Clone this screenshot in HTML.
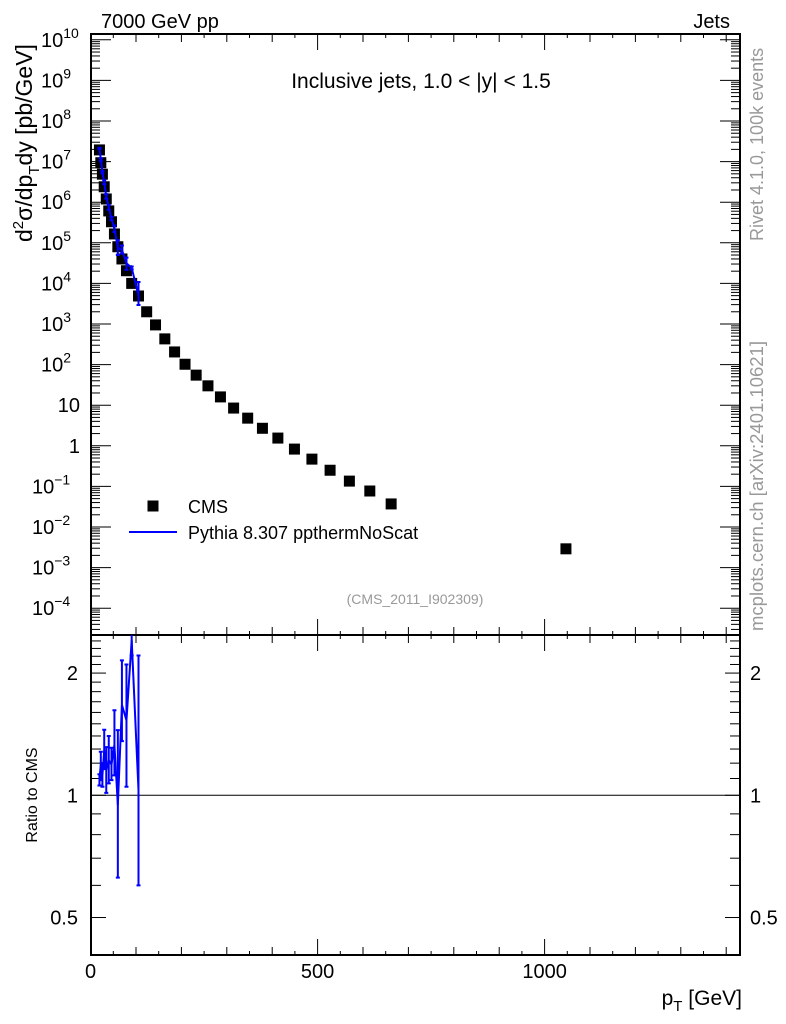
<!DOCTYPE html>
<html><head><meta charset="utf-8"><style>
body{margin:0;background:#fff;}
svg{display:block;font-family:"Liberation Sans",sans-serif;}
</style></head><body>
<svg id="c" width="786" height="1024" viewBox="0 0 786 1024" xmlns="http://www.w3.org/2000/svg" xml:space="preserve">
<text x="101" y="28" font-size="20">7000 GeV pp</text>
<text x="730" y="28" font-size="20" text-anchor="end">Jets</text>
<text x="421" y="88" font-size="21" text-anchor="middle">Inclusive jets, 1.0 &lt; |y| &lt; 1.5</text>
<text x="415" y="604" font-size="14" fill="#999" text-anchor="middle">(CMS_2011_I902309)</text>
<text transform="translate(763,241) rotate(-90)" font-size="18" fill="#999">Rivet 4.1.0,  100k events</text>
<text transform="translate(763,631) rotate(-90)" font-size="18.5" fill="#999">mcplots.cern.ch [arXiv:2401.10621]</text>
<text transform="translate(32,242) rotate(-90)" font-size="23">d<tspan dy="-9" font-size="15">2</tspan><tspan dy="9">σ/dp</tspan><tspan dy="7" font-size="15">T</tspan><tspan dy="-7">dy [pb/GeV]</tspan></text>
<text transform="translate(37,795) rotate(-90)" font-size="16" text-anchor="middle">Ratio to CMS</text>
<text x="742" y="1005" font-size="21" text-anchor="end">p<tspan dy="6" font-size="15">T</tspan><tspan dy="-6"> [GeV]</tspan></text>
<g id="legend">
<rect x="147.5" y="500.5" width="11" height="11" fill="#000"/>
<text x="188" y="513" font-size="18">CMS</text>
<line x1="129" y1="532" x2="177" y2="532" stroke="#00f" stroke-width="2"/>
<text x="188" y="539" font-size="18">Pythia 8.307 ppthermNoScat</text>
</g>
</svg>
<script>
const ptCenters=[19.5,22.5,26,30,34.5,40,46,52.5,60,69,79,90.5,105.5,123.5,143,163.5,185,208,232.5,258.5,286,315,346,378.5,412.5,449,487.5,527.5,570,615,662,1047];
const cmsValues=[1.94e7,9.4e6,4.9e6,2.4e6,1.2e6,6.1e5,3.3e5,1.65e5,8e4,4.0e4,2.05e4,1.0e4,4.9e3,2.0e3,950,430,205,102,55,30,16,8.5,4.8,2.7,1.55,0.83,0.47,0.25,0.135,0.077,0.037,0.0029];
const ratioValues=[1.097,1.19,1.12,1.29,1.154,1.22,1.19,1.33,0.947,1.67,1.53,2.41,1.03];
const ratioErrLo=[0.04,0.1,0.07,0.13,0.14,0.15,0.1,0.21,0.32,0.31,0.48,0.2,0.43];
const ratioErrHi=[0.03,0.09,0.08,0.16,0.16,0.18,0.12,0.29,0.5,0.48,0.57,0.2,1.18];
const xTickLabels=["0","500","1000"];
const mainTickLabels=[10,9,8,7,6,5,4,3,2,1,0,-1,-2,-3,-4];
const ratioTickLabels=["0.5","1","2"];
const ratioTickValues=[0.5,1,2];

const NS="http://www.w3.org/2000/svg";
const svg=document.getElementById('c');
const L=91,R=740,T=34,MB=635,RB=955;
const X=v=>90.6+0.454*v;
const Y=v=>445.8-40.6*Math.log10(v);
const YR=v=>795.3-406*Math.log10(v);
function mk(tag,attrs,parent){const e=document.createElementNS(NS,tag);for(const k in attrs)e.setAttribute(k,attrs[k]);(parent||svg).appendChild(e);return e;}
const g=mk('g',{});


function ln(x1,y1,x2,y2,c,w,p){return mk('line',{x1,y1,x2,y2,stroke:c||'#000','stroke-width':w||1},p||g);}
const defs=mk('defs',{});
const cp1=mk('clipPath',{id:'cm'},defs);mk('rect',{x:L,y:T,width:R-L,height:MB-T},cp1);
const cp2=mk('clipPath',{id:'cr'},defs);mk('rect',{x:L,y:MB,width:R-L,height:RB-MB},cp2);
for(let v=0;v<=1400;v+=50){
  const x=X(v);const len=v%500===0?16:(v%100===0?8:4);
  [MB,RB].forEach(b=>ln(x,b,x,b-len));
  [T,MB].forEach(t=>ln(x,t,x,t+len));
}
xTickLabels.forEach(s=>{const t=mk('text',{x:X(+s),y:978,'font-size':20,'text-anchor':'middle'});t.textContent=s;

});
for(let d=-5;d<=10;d++){
  for(let m=1;m<10;m++){const v=m*Math.pow(10,d);const y=Y(v);if(y<T||y>MB)continue;
    const len=m===1?20:9;ln(L,y,L+len,y);ln(R,y,R-len,y);}
}
mainTickLabels.forEach(d=>{
  const y=Y(Math.pow(10,d));
  const t=mk('text',{x:80,y:y+7,'font-size':20,'text-anchor':'end'});
  
  
  if(d===0)t.textContent='1';else if(d===1)t.textContent='10';
  else{t.appendChild(document.createTextNode('10'));const s=mk('tspan',{dy:-9,'font-size':14},t);s.textContent=String(d).replace('-','−');t.setAttribute('text-anchor','start');t.setAttribute('x',d<0?32:41);}
});
for(let v=0.4;v<=2.55;v+=0.1){const y=YR(v);if(y<MB||y>RB)continue;const maj=Math.abs(v-0.5)<1e-6||Math.abs(v-1)<1e-6||Math.abs(v-2)<1e-6;const len=maj?15:10;ln(L,y,L+len,y);ln(R,y,R-len,y);}
ratioTickLabels.forEach((s,i)=>{const y=YR(ratioTickValues[i]);
 const t=mk('text',{x:78,y:y+7,'font-size':20,'text-anchor':'end'});t.textContent=s;
 
 
 const t2=mk('text',{x:750,y:y+7,'font-size':20});t2.textContent=s;
 
 });
ln(L,YR(1),R,YR(1),'#000',1);
const f1=mk('rect',{x:L,y:T,width:R-L,height:MB-T,fill:'none',stroke:'#000','stroke-width':2});


const f2=mk('rect',{x:L,y:MB,width:R-L,height:RB-MB,fill:'none',stroke:'#000','stroke-width':2});


const cg=mk('g',{'clip-path':'url(#cm)'});


ptCenters.forEach((p,i)=>{const r=mk('rect',{x:X(p)-5.5,y:Y(cmsValues[i])-5.5,width:11,height:11,fill:'#000'},cg);

});
const pg=mk('g',{'clip-path':'url(#cm)',stroke:'#00f',fill:'none','stroke-width':2});


let pts=[];
ratioValues.forEach((r,i)=>{const x=X(ptCenters[i]);const v=r*cmsValues[i];pts.push(x+','+Y(v));
 const lo=(r-ratioErrLo[i])*cmsValues[i],hi=(r+ratioErrHi[i])*cmsValues[i];
 const e=mk('path',{d:`M${x},${Y(lo)}V${Y(hi)}M${x-2},${Y(lo)}h4M${x-2},${Y(hi)}h4`},pg);
 
 });
const pl=mk('polyline',{points:pts.join(' ')},pg);


const rg=mk('g',{'clip-path':'url(#cr)',stroke:'#00f',fill:'none','stroke-width':2});


let rp=[];
ratioValues.forEach((r,i)=>{const x=X(ptCenters[i]);rp.push(x+','+YR(r));
 const lo=r-ratioErrLo[i],hi=r+ratioErrHi[i];
 const e=mk('path',{d:`M${x},${YR(lo)}V${YR(hi)}M${x-2},${YR(lo)}h4M${x-2},${YR(hi)}h4`},rg);
 
 });
const rl=mk('polyline',{points:rp.join(' ')},rg);


</script>
</body></html>
